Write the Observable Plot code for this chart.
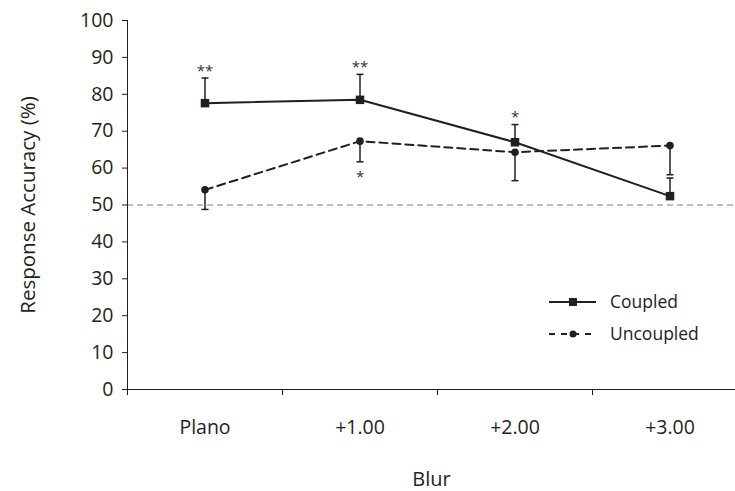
<!DOCTYPE html>
<html><head><meta charset="utf-8">
<script src="https://cdn.jsdelivr.net/npm/d3@7"></script>
<script src="https://cdn.jsdelivr.net/npm/@observablehq/plot@0.6"></script>
<style>
body{margin:0;background:#fff;}
#wrap{position:relative;width:735px;height:491px;}
#legend{position:absolute;left:0;top:0;pointer-events:none;}
</style></head><body><div id="wrap"></div>
<script>
const categories = ["Plano", "+1.00", "+2.00", "+3.00"];
const coupled = [77.6, 78.5, 67.0, 52.4];
const coupledErrTop = [84.4, 85.4, 71.8, 57.3];
const uncoupled = [54.1, 67.3, 64.3, 66.1];
const uncoupledErrBottom = [48.8, 61.7, 56.6, 58.2];
const sigCoupled = ["**", "**", "*", ""];
const sigUncoupled = ["", "*", "", ""];
const yTicks = [0, 10, 20, 30, 40, 50, 60, 70, 80, 90, 100];
const chance = 50;
const seriesNames = ["Coupled", "Uncoupled"];

const ink = "#231f20";
const rows = categories.map((c, i) => ({
  pos: i + 0.5, c,
  coupled: coupled[i], cTop: coupledErrTop[i],
  unc: uncoupled[i], uBot: uncoupledErrBottom[i],
  sc: sigCoupled[i], su: sigUncoupled[i]
}));
const cap = {draw(ctx) { ctx.moveTo(-3.5, 0); ctx.lineTo(3.5, 0); }};

const plot = Plot.plot({
  width: 735, height: 491,
  marginTop: 20, marginBottom: 102, marginLeft: 127, marginRight: 0,
  style: {fontFamily: "Open Sans", fontSize: "19px", color: ink, background: "#fff"},
  x: {domain: [0, 4], range: [127, 747], label: null},
  y: {domain: [0, 100], label: null},
  marks: [
    Plot.ruleY([chance], {stroke: "#aaaaaa", strokeWidth: 1.5, strokeDasharray: "6,4"}),
    Plot.ruleX([0], {stroke: ink, strokeWidth: 1}),
    Plot.ruleY([0], {stroke: ink, strokeWidth: 1}),
    Plot.axisY({ticks: yTicks, tickSize: 5, tickPadding: 9, fontSize: 19.5, label: null}),
    Plot.axisX({ticks: [0, 1, 2, 3, 4], tickSize: 6, tickFormat: () => "", label: null}),
    Plot.axisX({ticks: rows.map(d => d.pos), tickSize: 0, tickPadding: 31, fontSize: 19.5,
      tickFormat: d => categories[Math.floor(d)], label: null}),
    Plot.text(["Blur"], {frameAnchor: "bottom", dy: 90, lineAnchor: "middle", fontSize: 20}),
    Plot.text(["Response Accuracy (%)"], {frameAnchor: "left", textAnchor: "middle", lineAnchor: "middle",
      rotate: -90, dx: -99, fontSize: 20.5}),
    // error bars
    Plot.ruleX(rows, {x: "pos", y1: "coupled", y2: "cTop", stroke: ink, strokeWidth: 1.5}),
    Plot.dot(rows, {x: "pos", y: "cTop", symbol: cap, stroke: ink, fill: "none", strokeWidth: 1.5}),
    Plot.ruleX(rows, {x: "pos", y1: "unc", y2: "uBot", stroke: ink, strokeWidth: 1.5}),
    Plot.dot(rows, {x: "pos", y: "uBot", symbol: cap, stroke: ink, fill: "none", strokeWidth: 1.5}),
    // lines
    Plot.line(rows, {x: "pos", y: "coupled", stroke: ink, strokeWidth: 2}),
    Plot.line(rows, {x: "pos", y: "unc", stroke: ink, strokeWidth: 2, strokeDasharray: "8,5"}),
    Plot.dot(rows, {x: "pos", y: "coupled", symbol: "square", r: 4.8, fill: ink}),
    Plot.dot(rows, {x: "pos", y: "unc", r: 3.8, fill: ink}),
    // significance
    Plot.text(rows.filter(d => d.sc), {x: "pos", y: "cTop", text: "sc", dy: -7, fontSize: 15, fill: "#333"}),
    Plot.text(rows.filter(d => d.su), {x: "pos", y: "uBot", text: "su", dy: 15, fontSize: 15, fill: "#333"})
  ]
});
const wrap = document.getElementById("wrap");
wrap.appendChild(plot);

// legend overlay
const ns = "http://www.w3.org/2000/svg";
const lg = document.createElementNS(ns, "svg");
lg.setAttribute("id", "legend");
lg.setAttribute("width", 735); lg.setAttribute("height", 491);
lg.innerHTML = `
<g font-family="Open Sans" font-size="17.5" fill="${ink}">
  <line x1="549" x2="596" y1="302" y2="302" stroke="${ink}" stroke-width="2"/>
  <rect x="569" y="298" width="8" height="8" fill="${ink}"/>
  <text x="610" y="302" dy="0.35em">${seriesNames[0]}</text>
  <line x1="549" x2="591" y1="334" y2="334" stroke="${ink}" stroke-width="2" stroke-dasharray="6,6"/>
  <circle cx="573" cy="334" r="3.5" fill="${ink}"/>
  <text x="610" y="334" dy="0.35em">${seriesNames[1]}</text>
</g>`;
wrap.appendChild(lg);
</script>
</body></html>
